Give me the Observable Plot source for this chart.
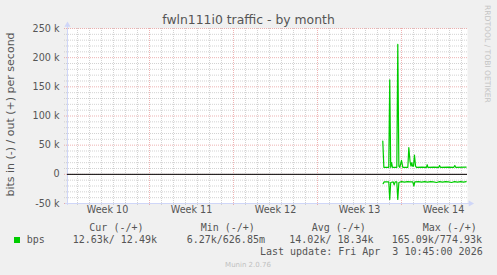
<!DOCTYPE html>
<html><head><meta charset="utf-8">
<script src="https://cdn.jsdelivr.net/npm/d3@7"></script>
<script src="https://cdn.jsdelivr.net/npm/@observablehq/plot@0.6"></script>
<style>html,body{margin:0;padding:0;background:#f0f0f0;overflow:hidden}</style>
</head><body><div id="chart"></div>
<script>
// ---- data (x = days since Mon 2 Mar 2026 00:00, values in k bits/s) ----
const outDays = [26.44,26.53,26.94,27.02,27.10,27.17,27.25,27.61,27.69,27.78,27.86,28.00,28.11,28.53,28.61,28.71,28.79,28.86,28.92,29.00,29.08,29.17,29.25,29.70,30.08,30.14,30.20,30.70,31.11,31.17,31.25,31.90,32.36,32.44,32.52,33.39];
const outK    = [57,   12,   12,   162,  12,   20,   12,   12,   223,  14,   12,   24,   12,   12,   46,   22,   14,   20,   14,   14,   33,   14,   12,   12.5, 12,   16.5, 12,   12.5, 12,   15,   12,   12.5, 12,   15,   12,   12.5];
const inDays  = [26.47,26.56,26.94,27.02,27.10,27.31,27.39,27.47,27.61,27.69,27.78,28.00,28.25,28.50,28.75,28.94,29.03,29.11,29.42,29.67,29.92,30.17,30.42,30.67,30.92,31.17,31.42,31.67,31.92,32.17,32.42,32.67,32.92,33.17,33.39];
const inK     = [16,   13,   13,   43,   14,   13,   18,   13,   13,   43,   14,   12.5, 13.5, 12.5, 13,   13,   20,   13,   12.5, 13.5, 12.5, 13.5, 12.5, 13,   14,   12.5, 13.5, 12.5, 13,   14,   12.5, 13.5, 12.5, 13.5, 12.5];

const yTicks = [-50000, 0, 50000, 100000, 150000, 200000, 250000];
const yTickLabels = ["-50 k", "0", "50 k", "100 k", "150 k", "200 k", "250 k"];
const weekStarts = [7, 14, 21, 28];
const weekMid = [3.5, 10.5, 17.5, 24.5, 31.5];
const weekLabels = ["Week 10", "Week 11", "Week 12", "Week 13", "Week 14"];
const legendHeads = ["Cur (-/+)", "Min (-/+)", "Avg (-/+)", "Max (-/+)"];
const legendVals = ["12.63k/ 12.49k", "6.27k/626.85m", "14.02k/ 18.34k", "165.09k/774.93k"];
const seriesName = "bps";
const title = "fwln111i0 traffic - by month";
const yLabel = "bits in (-) / out (+) per second";
const lastUpdate = "Last update: Fri Apr  3 10:45:00 2026";
const watermark = "RRDTOOL / TOBI OETIKER";
const footer = "Munin 2.0.76";

const outData = outDays.map((d, i) => ({d, v: outK[i] * 1000}));
const inData = inDays.map((d, i) => ({d, v: -inK[i] * 1000}));
const dayMinor = d3.range(1, 34).filter(d => !weekStarts.includes(d));
const yMinor = d3.range(-40000, 250000, 10000).filter(v => v % 50000 !== 0);

const GREEN = "#00cc00";
const AXIS = "#cfd6f8";
const MINOR = "#c4c4c4";
const MAJOR = "#e07474";

const chart = Plot.plot({
  width: 497, height: 275,
  marginLeft: 67, marginRight: 30, marginTop: 28, marginBottom: 72,
  style: {background: "#f0f0f0", fontFamily: "'DejaVu Sans'", fontSize: "9.6px", color: "#555", overflow: "visible"},
  x: {type: "linear", domain: [1/6, 33.5], axis: null},
  y: {domain: [-50000, 250000], axis: null},
  marks: [
    Plot.frame({fill: "white", stroke: null}),
    Plot.ruleY(yMinor, {stroke: MINOR, strokeOpacity: 0.75, strokeDasharray: "1,1", insetLeft: -3}),
    Plot.ruleX(dayMinor, {stroke: MINOR, strokeOpacity: 0.75, strokeDasharray: "1,1", insetBottom: -3}),
    Plot.ruleY(yTicks, {stroke: MAJOR, strokeOpacity: 0.55, strokeDasharray: "1,1", insetLeft: -3}),
    Plot.ruleX(weekStarts, {stroke: MAJOR, strokeOpacity: 0.55, strokeDasharray: "1,1", insetBottom: -3}),
    Plot.ruleX([1/6], {stroke: AXIS, insetTop: -5, insetBottom: -2}),
    Plot.ruleY([-50000], {stroke: AXIS, insetLeft: -2, insetRight: -3}),
    Plot.dot([0], {frameAnchor: "top-left", dy: -3.5, symbol: "triangle", r: 2.3, fill: AXIS, stroke: null}),
    Plot.dot([0], {frameAnchor: "bottom-right", dx: 3, symbol: "triangle", r: 2.3, fill: AXIS, stroke: null, rotate: 90}),
    Plot.ruleY([0], {stroke: "black", strokeWidth: 1}),
    Plot.line(outData, {x: "d", y: "v", stroke: GREEN, strokeWidth: 1.2}),
    Plot.line(inData, {x: "d", y: "v", stroke: GREEN, strokeWidth: 1.2}),
    Plot.text(yTicks, {y: d => d, frameAnchor: "left", textAnchor: "end", dx: -8, text: (d, i) => yTickLabels[i], fill: "#555"}),
    Plot.text(weekMid, {x: d => d, frameAnchor: "bottom", dy: 9.6, text: (d, i) => weekLabels[i], fill: "#555"})
  ]
});

const svg = d3.select(chart);
svg.append("text").attr("x", 248.5).attr("y", 24).attr("text-anchor", "middle")
  .style("font-size", "12.4px").attr("fill", "#555").text(title);
svg.append("text").attr("transform", "translate(13.5,114.5) rotate(-90)").attr("text-anchor", "middle")
  .style("font-size", "11px").attr("fill", "#555").text(yLabel);
svg.append("text").attr("transform", "translate(484.5,5) rotate(90)").attr("text-anchor", "start")
  .style("font-size", "7.6px").attr("fill", "#c4c4c4").text(watermark);
svg.append("text").attr("x", 248).attr("y", 266.5).attr("text-anchor", "middle")
  .style("font-size", "7px").attr("fill", "#c0c0c0").text(footer);

const mono = "'DejaVu Sans Mono'";
const headX = [89.3, 200.7, 311.7, 422.7];
const valX = [72.7, 186.7, 289.3, 391.7];
function monoText(x, y, t, anchor) {
  return svg.append("text").attr("x", x).attr("y", y).attr("text-anchor", anchor || "start")
    .style("font-family", mono).style("font-size", "10px").style("white-space", "pre")
    .attr("fill", "#555").text(t);
}
legendHeads.forEach((t, i) => monoText(headX[i], 230.9, t));
legendVals.forEach((t, i) => monoText(valX[i], 243.2, t));
svg.append("rect").attr("x", 14).attr("y", 237).attr("width", 6).attr("height", 6).attr("fill", GREEN);
monoText(26.7, 243.2, seriesName);
monoText(482.7, 255.4, lastUpdate, "end");

document.getElementById("chart").appendChild(chart);
</script>
</body></html>
